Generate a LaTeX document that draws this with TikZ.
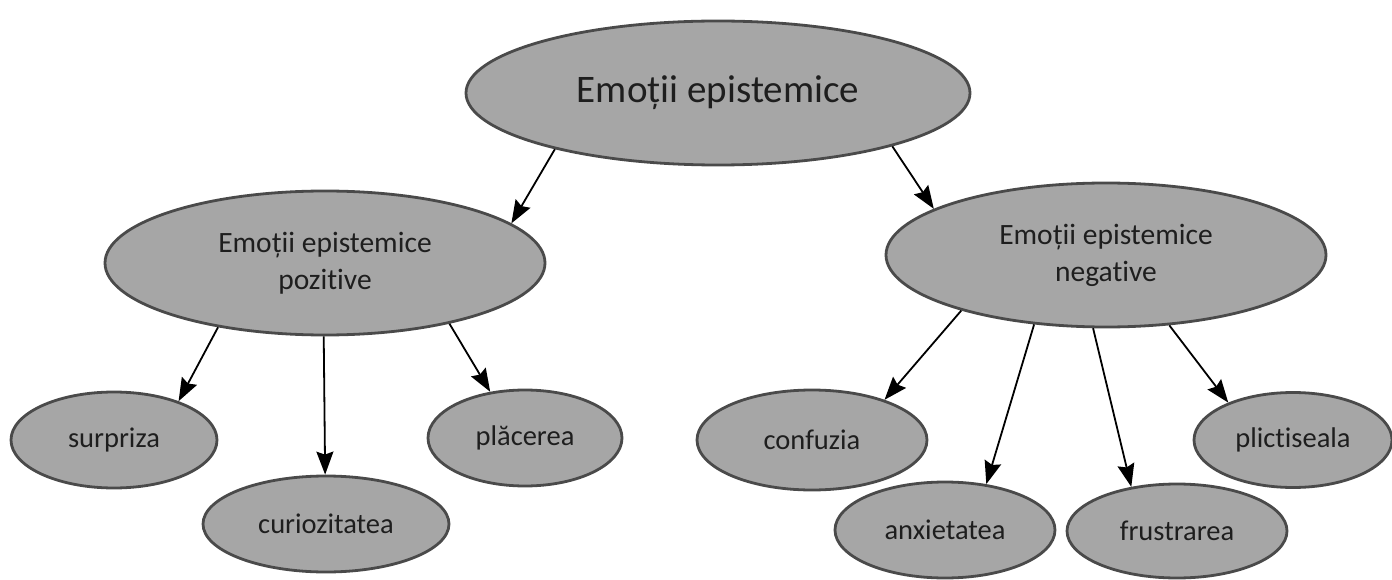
\documentclass[tikz,border=0pt]{standalone}
\usepackage{fontspec}
\setmainfont{Carlito}[Ligatures={NoCommon,NoRequired,NoContextual}]
\usetikzlibrary{shapes.geometric,arrows.meta}
\definecolor{ellfill}{HTML}{A6A6A6}
\definecolor{ellline}{HTML}{4A4A4A}
\definecolor{txt}{HTML}{1E1E1E}
\tikzset{
  emo/.style={ellipse, draw=ellline, line width=2.8pt, fill=ellfill, inner sep=0pt, text=txt, align=center},
  topemo/.style={emo, font=\fontsize{39}{46}\selectfont},
  midemo/.style={emo, font=\fontsize{29.5}{37}\selectfont},
  leafemo/.style={emo, font=\fontsize{28.5}{34}\selectfont},
  arr/.style={line width=1.8pt, black, -{Stealth[length=23pt,width=17pt,inset=3pt]}}
}
\begin{document}
\begin{tikzpicture}[x=1pt,y=-1pt]
\useasboundingbox (0,0) rectangle (1392,580);
\node[topemo, minimum width=504pt, minimum height=144pt] (top) at (718,93) {Emoții epistemice};
\node[midemo, minimum width=440pt, minimum height=144pt] (pos) at (325,263) {Emoții epistemice\\pozitive};
\node[midemo, minimum width=440pt, minimum height=144pt] (neg) at (1106,255) {Emoții epistemice\\negative};
\node[leafemo, minimum width=206pt, minimum height=96pt] (surp) at (114,440) {surpriza};
\node[leafemo, minimum width=246pt, minimum height=96pt] (cur) at (326,524) {curiozitatea};
\node[leafemo, minimum width=194pt, minimum height=96pt] (plac) at (525,438) {plăcerea};
\node[leafemo, minimum width=230pt, minimum height=100pt] (conf) at (812,440) {confuzia};
\node[leafemo, minimum width=220pt, minimum height=96pt] (anx) at (945,530) {anxietatea};
\node[leafemo, minimum width=220pt, minimum height=94pt] (fru) at (1177,531) {frustrarea};
\node[leafemo, minimum width=198pt, minimum height=95pt] (plic) at (1293,440) {plictiseala};
\draw[arr] (top.-161.3) -- (pos.12.6);
\draw[arr] (top.-17.4) -- (neg.165.8);
\draw[arr] (pos.-149.1) -- (surp.31.3);
\draw[arr] (pos.-91.5) -- (cur.91);
\draw[arr] (pos.-26.2) -- (plac.127.6);
\draw[arr] (neg.-159.6) -- (conf.29.1);
\draw[arr] (neg.-136.2) -- (anx.48.4);
\draw[arr] (neg.-100.7) -- (fru.136.3);
\draw[arr] (neg.-48.5) -- (plic.150.3);
\end{tikzpicture}
\end{document}
